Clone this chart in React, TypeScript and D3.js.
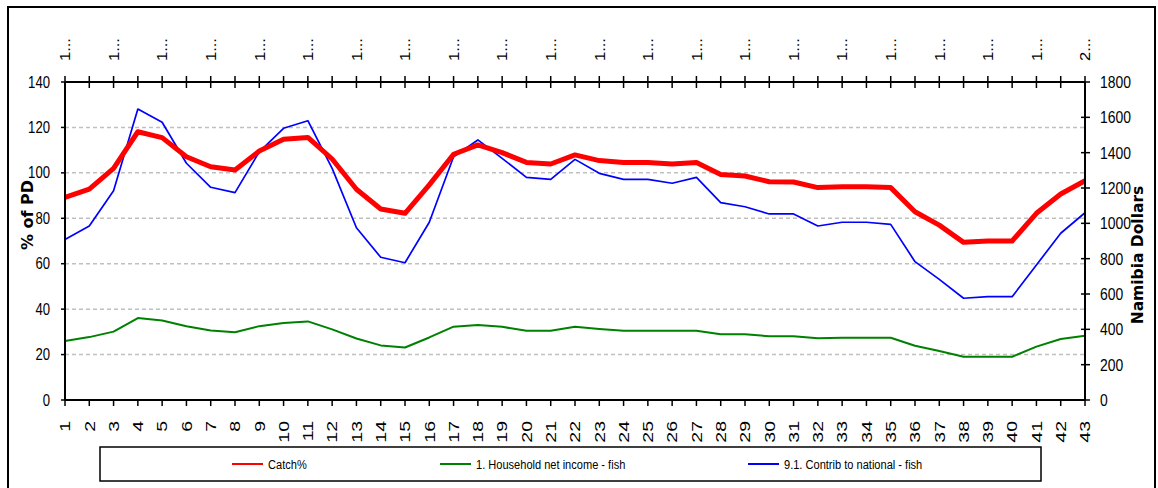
import React from "react";
import * as d3 from "d3";

const categories: number[] = d3.range(1, 44);
const topLabels: string[] = categories.map((c) => (c === 43 ? "2..." : "1..."));

// Catch% (left axis, % of PD)
const catchPct: number[] = [
  89.2, 92.8, 102, 118.1, 115.5, 107.1, 102.7, 101.3, 109.6, 114.8,
  115.6, 106.1, 92.8, 84.1, 82.2, 94.7, 108.2, 112.3, 108.9, 104.6,
  103.9, 107.9, 105.4, 104.6, 104.6, 103.9, 104.6, 99.3, 98.6, 96.1,
  96, 93.5, 93.9, 93.9, 93.5, 82.9, 77, 69.4, 70, 70,
  82.2, 90.7, 96.5,
];

// 1. Household net income - fish (right axis, N$)
const householdIncome: number[] = [
  334, 356, 387, 464, 450, 417, 393, 383, 418, 436,
  445, 400, 348, 309, 297, 354, 415, 424, 414, 392,
  392, 415, 402, 392, 392, 392, 392, 372, 372, 361,
  361, 350, 352, 352, 352, 307, 277, 245, 245, 245,
  302, 345, 364,
];

// 9.1. Contrib to national - fish (right axis, N$)
const contribNational: number[] = [
  909, 985, 1185, 1647, 1572, 1340, 1204, 1174, 1405, 1538,
  1581, 1311, 975, 808, 777, 1006, 1377, 1472, 1368, 1260,
  1249, 1362, 1283, 1249, 1249, 1227, 1260, 1117, 1094, 1053,
  1053, 985, 1006, 1006, 994, 783, 683, 576, 585, 585,
  764, 944, 1060,
];

const leftTicks: number[] = [0, 20, 40, 60, 80, 100, 120, 140];
const rightTicks: number[] = [0, 200, 400, 600, 800, 1000, 1200, 1400, 1600, 1800];
const gridValues: number[] = [20, 40, 60, 80, 100, 120, 140];

const legendItems = [
  { label: "Catch%", color: "#ff0000" },
  { label: "1. Household net income - fish", color: "#008000" },
  { label: "9.1. Contrib to national  - fish", color: "#0000ff" },
];

const W = 1158;
const H = 488;
const plot = { left: 65, right: 1085, top: 82, bottom: 400 };
const font = "'Liberation Sans', Arial, sans-serif";
const boldFont = "'DejaVu Sans', Verdana, sans-serif";
const narrowX = 0.82;

export default function App() {
  const x = d3.scaleLinear().domain([1, 43]).range([plot.left, plot.right]);
  const yL = d3.scaleLinear().domain([0, 140]).range([plot.bottom, plot.top]);
  const yR = d3.scaleLinear().domain([0, 1800]).range([plot.bottom, plot.top]);

  const lineL = d3.line<number>().x((_, i) => x(categories[i])).y((d) => yL(d));
  const lineR = d3.line<number>().x((_, i) => x(categories[i])).y((d) => yR(d));

  const legendX = [232, 440, 748];

  return (
    <svg
      width={W}
      height={H}
      style={{ position: "absolute", left: 0, top: 0, background: "#fff" }}
    >
      <rect x={0} y={0} width={W} height={H} fill="#fff" />
      {/* outer frame */}
      <rect x={8} y={7} width={1147} height={500} fill="none" stroke="#000" strokeWidth={2} />

      {/* gridlines */}
      {gridValues.map((v) => (
        <line
          key={"g" + v}
          x1={plot.left}
          x2={plot.right}
          y1={yL(v)}
          y2={yL(v)}
          stroke="#c0c0c0"
          strokeWidth={1.5}
          strokeDasharray="4,3"
        />
      ))}

      {/* series */}
      <path d={lineR(contribNational) || ""} fill="none" stroke="#0000ff" strokeWidth={1.7} strokeLinejoin="round" />
      <path d={lineR(householdIncome) || ""} fill="none" stroke="#008000" strokeWidth={2} strokeLinejoin="round" />
      <path d={lineL(catchPct) || ""} fill="none" stroke="#ff0000" strokeWidth={5} strokeLinejoin="round" />

      {/* left axis */}
      <line x1={plot.left} x2={plot.left} y1={plot.top} y2={plot.bottom} stroke="#000" strokeWidth={2} />
      {leftTicks.map((v) => (
        <g key={"l" + v}>
          <line x1={plot.left - 4} x2={plot.left} y1={yL(v)} y2={yL(v)} stroke="#000" strokeWidth={1.5} />
          <text
            transform={`translate(50,${yL(v)}) scale(${narrowX},1)`}
            dy="0.35em"
            textAnchor="end"
            fontFamily={font}
            fontSize={16}
          >
            {v}
          </text>
        </g>
      ))}

      {/* right axis */}
      <line x1={plot.right} x2={plot.right} y1={plot.top} y2={plot.bottom} stroke="#000" strokeWidth={2} />
      {rightTicks.map((v) => (
        <g key={"r" + v}>
          <line x1={plot.right - 4} x2={plot.right + 5} y1={yR(v)} y2={yR(v)} stroke="#000" strokeWidth={1.5} />
          <text
            transform={`translate(1100,${yR(v)}) scale(${narrowX},1)`}
            dy="0.35em"
            textAnchor="start"
            fontFamily={font}
            fontSize={17}
          >
            {v}
          </text>
        </g>
      ))}

      {/* bottom axis */}
      <line x1={plot.left} x2={plot.right} y1={plot.bottom} y2={plot.bottom} stroke="#000" strokeWidth={2} />
      {categories.map((c) => (
        <g key={"b" + c}>
          <line x1={x(c)} x2={x(c)} y1={plot.bottom} y2={plot.bottom + 6} stroke="#000" strokeWidth={1.5} />
          <text
            transform={`translate(${x(c)},${421}) rotate(-90) scale(1.3,1)`}
            dy="0.35em"
            textAnchor="end"
            fontFamily={font}
            fontSize={15}
          >
            {c}
          </text>
        </g>
      ))}

      {/* top axis */}
      <line x1={plot.left} x2={plot.right} y1={plot.top} y2={plot.top} stroke="#000" strokeWidth={2} />
      {categories.map((c, i) => (
        <g key={"t" + c}>
          <line x1={x(c)} x2={x(c)} y1={plot.top - 6} y2={plot.top + 6} stroke="#000" strokeWidth={1.5} />
          {i % 2 === 0 && (
            <text
              transform={`translate(${x(c)},${61}) rotate(-90) scale(1.1,1)`}
              dy="0.35em"
              textAnchor="start"
              fontFamily={font}
              fontSize={15}
            >
              {topLabels[i]}
            </text>
          )}
        </g>
      ))}

      {/* axis titles */}
      <text
        transform="translate(27,215) rotate(-90)"
        dy="0.35em"
        textAnchor="middle"
        fontFamily={boldFont}
        fontWeight="bold"
        fontSize={16}
      >
        % of PD
      </text>
      <text
        transform="translate(1138,255) rotate(-90)"
        dy="0.35em"
        textAnchor="middle"
        fontFamily={boldFont}
        fontWeight="bold"
        fontSize={15.5}
      >
        Namibia Dollars
      </text>

      {/* legend */}
      <rect x={100} y={447} width={941} height={34} fill="#fff" stroke="#000" strokeWidth={1.5} />
      {legendItems.map((it, i) => (
        <g key={"lg" + i}>
          <line x1={legendX[i]} x2={legendX[i] + 31} y1={464} y2={464} stroke={it.color} strokeWidth={2} />
          <text
            transform={`translate(${legendX[i] + 36},464) scale(${narrowX},1)`}
            dy="0.35em"
            fontFamily={font}
            fontSize={13.5}
          >
            {it.label}
          </text>
        </g>
      ))}
    </svg>
  );
}
